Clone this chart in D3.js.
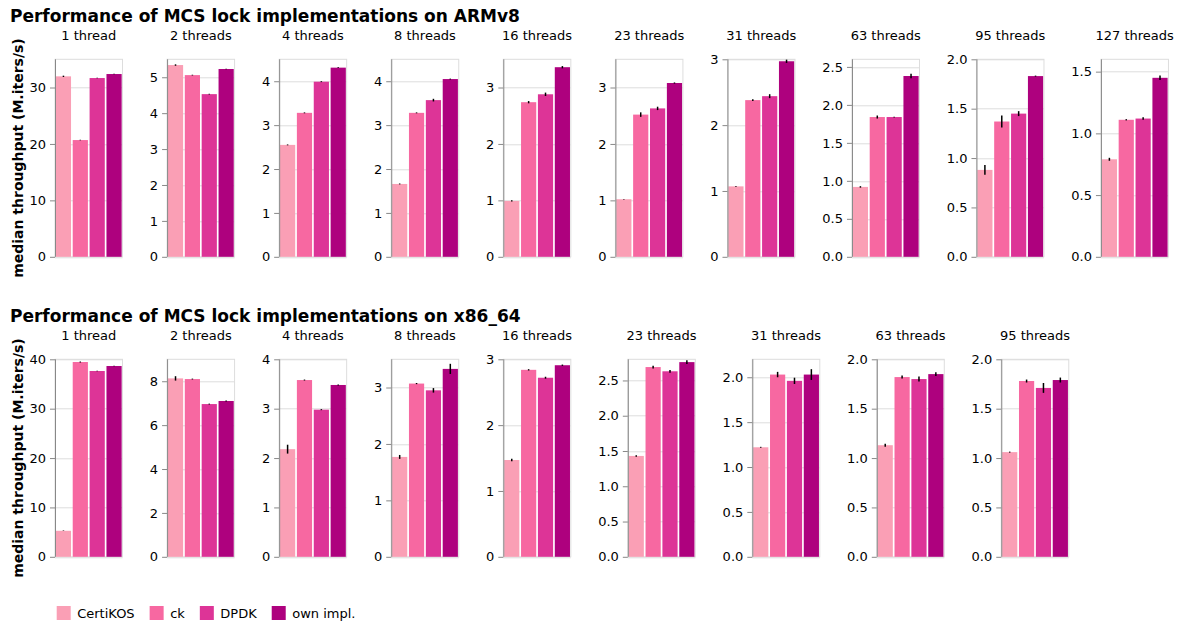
<!DOCTYPE html>
<html>
<head>
<meta charset="utf-8">
<script src="https://cdn.jsdelivr.net/npm/d3@7"></script>
<style>
  body { margin: 0; background: #fff; }
  svg { display: block; font-family: "DejaVu Sans", sans-serif; }
  .tick text { font-size: 13px; fill: #000; }
</style>
</head>
<body>
<svg id="chart" width="1181" height="622"></svg>
<script>
// lock implementations (x categories / legend)
const implementations = ['CertiKOS', 'ck', 'DPDK', 'own impl.'];
const implColors = ['#fa9fb5', '#f768a1', '#dd3497', '#ae017e'];

// ARMv8: thread counts, median throughput, error half-width (M.iters/s)
const armThreads = [1, 2, 4, 8, 16, 23, 31, 63, 95, 127];
const armMedian = [
    [31.98, 20.69, 31.68, 32.39],
    [5.34, 5.06, 4.53, 5.23],
    [2.55, 3.28, 3.99, 4.31],
    [1.66, 3.28, 3.57, 4.05],
    [0.99, 2.74, 2.88, 3.36],
    [1.02, 2.52, 2.63, 3.08],
    [1.07, 2.38, 2.44, 2.97],
    [0.92, 1.84, 1.84, 2.38],
    [0.88, 1.37, 1.45, 1.83],
    [0.79, 1.11, 1.12, 1.45]
];
const armErr = [
    [0.12, 0.05, 0.05, 0.05],
    [0.02, 0.01, 0.01, 0.01],
    [0.01, 0.01, 0.01, 0.01],
    [0.01, 0.01, 0.03, 0.01],
    [0.01, 0.02, 0.03, 0.02],
    [0.005, 0.04, 0.03, 0.01],
    [0.005, 0.015, 0.03, 0.025],
    [0.01, 0.02, 0.005, 0.03],
    [0.05, 0.06, 0.025, 0.005],
    [0.012, 0.005, 0.01, 0.018]
];

// x86_64
const x86Threads = [1, 2, 4, 8, 16, 23, 31, 63, 95];
const x86Median = [
    [5.27, 39.45, 37.63, 38.64],
    [8.13, 8.10, 6.96, 7.10],
    [2.18, 3.58, 2.98, 3.48],
    [1.77, 3.07, 2.95, 3.33],
    [1.47, 2.84, 2.72, 2.91],
    [1.43, 2.69, 2.63, 2.76],
    [1.22, 2.03, 1.96, 2.03],
    [1.13, 1.82, 1.80, 1.85],
    [1.06, 1.78, 1.71, 1.79]
];
const x86Err = [
    [0.05, 0.1, 0.05, 0.05],
    [0.1, 0.02, 0.02, 0.02],
    [0.09, 0.01, 0.01, 0.01],
    [0.035, 0.01, 0.04, 0.09],
    [0.02, 0.01, 0.015, 0.01],
    [0.01, 0.02, 0.02, 0.025],
    [0.005, 0.03, 0.035, 0.06],
    [0.015, 0.015, 0.025, 0.02],
    [0.005, 0.015, 0.05, 0.025]
];

const rows = [
    { title: 'Performance of MCS lock implementations on ARMv8', threads: armThreads, median: armMedian, err: armErr },
    { title: 'Performance of MCS lock implementations on x86_64', threads: x86Threads, median: x86Median, err: x86Err }
];

const W = 67.5, H = 197.5;
const rowTop = [59.3, 359.3];
const firstLeft = 55;
const gapBase = 26.3;  // space between a panel and the next panel's axis labels

const svg = d3.select('#chart');
svg.append('rect').attr('width', 1181).attr('height', 622).attr('fill', '#fff');

const color = d3.scaleOrdinal().domain(implementations).range(implColors);
const x = d3.scaleBand().domain(implementations).range([0, W]).paddingInner(0.1).paddingOuter(0.05);

rows.forEach(function(row, ri) {
    let top = rowTop[ri];

    // row title
    svg.append('text')
        .attr('x', 10)
        .attr('y', top - 37.5)
        .attr('font-size', 17)
        .attr('font-weight', 'bold')
        .text(row.title);

    // y axis title
    svg.append('text')
        .attr('transform', 'translate(23,' + (top + H / 2) + ') rotate(-90)')
        .attr('text-anchor', 'middle')
        .attr('font-size', 14)
        .attr('font-weight', 'bold')
        .text('median throughput (M.iters/s)');

    let prevRight = null;
    row.threads.forEach(function(t, pi) {
        let vals = row.median[pi];
        let errs = row.err[pi];
        let maxV = d3.max(vals.map((v, i) => v + errs[i]));
        let y = d3.scaleLinear().domain([0, maxV]).nice().range([H, 0]);

        let g = svg.append('g');

        // axis first so its width can be measured for placement
        let axisG = g.append('g')
            .call(d3.axisLeft(y).ticks(4).tickSize(5).tickPadding(4));
        axisG.select('.domain').remove();
        axisG.selectAll('.tick line').attr('stroke', '#888');
        axisG.selectAll('.tick text').attr('font-size', 13).attr('font-family', 'DejaVu Sans, sans-serif');
        let labelW = d3.max(axisG.selectAll('.tick text').nodes(), n => n.getComputedTextLength());

        let left = prevRight === null ? firstLeft : prevRight + gapBase + 10 + labelW;
        g.attr('transform', 'translate(' + left + ',' + top + ')');
        prevRight = left + W;

        // grid
        g.insert('g', ':first-child')
            .selectAll('line')
            .data(y.ticks(4))
            .join('line')
            .attr('x1', 0).attr('x2', W)
            .attr('y1', d => Math.round(y(d)) + 0.5).attr('y2', d => Math.round(y(d)) + 0.5)
            .attr('stroke', '#ddd');

        // frame
        g.insert('rect', ':first-child')
            .attr('width', W).attr('height', H)
            .attr('fill', 'none').attr('stroke', '#ddd');

        // bars
        g.append('g').selectAll('rect')
            .data(implementations)
            .join('rect')
            .attr('x', d => x(d))
            .attr('width', x.bandwidth())
            .attr('y', (d, i) => y(vals[i]))
            .attr('height', (d, i) => H - y(vals[i]))
            .attr('fill', d => color(d));

        // error bars
        g.append('g').selectAll('line')
            .data(implementations)
            .join('line')
            .attr('x1', d => x(d) + x.bandwidth() / 2)
            .attr('x2', d => x(d) + x.bandwidth() / 2)
            .attr('y1', (d, i) => y(vals[i] - errs[i]))
            .attr('y2', (d, i) => y(vals[i] + errs[i]))
            .attr('stroke', '#000')
            .attr('stroke-width', 1.5);

        // axis domain line on top
        g.append('line')
            .attr('x1', 0.5).attr('x2', 0.5)
            .attr('y1', 0).attr('y2', H)
            .attr('stroke', '#888');
        axisG.raise();

        // column title
        g.append('text')
            .attr('x', W / 2)
            .attr('y', -19)
            .attr('text-anchor', 'middle')
            .attr('font-size', 13)
            .text(t + (t === 1 ? ' thread' : ' threads'));
    });
});

// legend
let lx = 56.7;
const legend = svg.append('g');
implementations.forEach(function(name) {
    legend.append('rect')
        .attr('x', lx).attr('y', 606)
        .attr('width', 14).attr('height', 14)
        .attr('fill', color(name));
    let txt = legend.append('text')
        .attr('x', lx + 20.5)
        .attr('y', 617.5)
        .attr('font-size', 13)
        .text(name);
    lx += 20.5 + txt.node().getComputedTextLength() + 15;
});
</script>
</body>
</html>
